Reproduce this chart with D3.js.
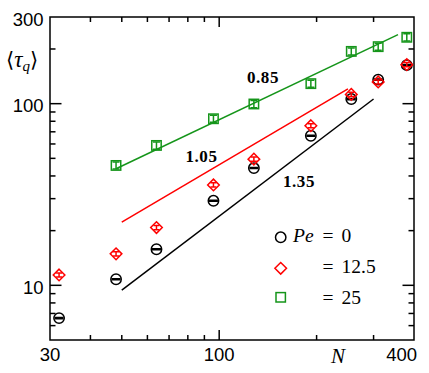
<!DOCTYPE html>
<html>
<head>
<meta charset="utf-8">
<script src="https://cdn.jsdelivr.net/npm/d3@7"></script>
<style>
  body { margin: 0; background: #fff; }
  svg { display: block; }
</style>
</head>
<body>
<svg id="chart" width="429" height="373"></svg>
<script>
// chain length N
let sizes = [32, 48, 64, 96, 128, 192, 256, 310, 380]

// <tau_q> for each Pe
let tauPe0   = [6.6, 10.8, 15.8, 29.2, 44.2, 66.6, 106, 135.6, 163]
let tauPe125 = [11.4, 14.9, 20.8, 35.7, 49.5, 75.6, 112.5, 131.7, 164]
let tauPe25  = [null, 45.7, 58.9, 82.6, 99.6, 128.9, 194, 206, 232]

// error bars (small, mostly hidden under the symbols)
let errPe0   = [0.05, 0.08, 0.12, 0.2, 0.3, 0.5, 0.8, 1.0, 1.2]
let errPe125 = [0.3, 0.4, 0.55, 0.95, 1.3, 2.0, 3.0, 3.5, 4.3]
let errPe25  = [null, 2.0, 2.7, 3.7, 4.5, 5.8, 8.7, 9.3, 10.4]

// power law fits: start / end N and value
let fitSlopes = ['0.85', '1.05', '1.35']
let fitN      = [[48, 357], [50, 250], [50, 300]]
let fitTau    = [[43.8, 240], [22.3, 120.5], [9.42, 106.1]]

let xMajor = [100]
let xMinor = [40, 50, 60, 70, 80, 90, 200, 300]
let xLabels = [30, 100, 400]
let yMajor = [10, 100]
let yMinor = [6, 7, 8, 9, 20, 30, 40, 50, 60, 70, 80, 90, 200]
let yLabels = [10, 100, 300]

let green = '#15951a'
let colors = ['#000000', '#ff0000', green]

let sansFont = 'Liberation Sans'
let serifFont = 'Liberation Serif'

let canvas = d3.select('#chart')

let plotL = 50, plotR = 414, plotT = 17, plotB = 340

let x = d3.scaleLog().domain([30, 400]).range([plotL, plotR])
let y = d3.scaleLog().domain([5, 300]).range([plotB, plotT])

// ---------- frame and ticks ----------
let axisG = canvas.append('g').attr('stroke', '#000').attr('stroke-width', 1.5)

axisG.append('rect')
    .attr('x', plotL).attr('y', plotT)
    .attr('width', plotR - plotL).attr('height', plotB - plotT)
    .attr('fill', 'none')

let addTicks = (vals, len, horizontal) => {
    vals.forEach((v) => {
        if (horizontal) {
            // bottom and top
            axisG.append('line').attr('x1', x(v)).attr('x2', x(v)).attr('y1', plotB).attr('y2', plotB - len)
            axisG.append('line').attr('x1', x(v)).attr('x2', x(v)).attr('y1', plotT).attr('y2', plotT + len)
        } else {
            axisG.append('line').attr('y1', y(v)).attr('y2', y(v)).attr('x1', plotL).attr('x2', plotL + len)
            axisG.append('line').attr('y1', y(v)).attr('y2', y(v)).attr('x1', plotR).attr('x2', plotR - len)
        }
    })
}
addTicks(xMinor, 5, true)
addTicks(xMajor, 10, true)
addTicks(yMinor, 5.5, false)
addTicks(yMajor, 11.5, false)

// tick labels
canvas.selectAll('.xlab')
    .data(xLabels)
    .enter()
    .append('text')
    .attr('font-family', sansFont)
    .attr('font-size', 18.5)
    .attr('x', (d) => d == 400 ? 417 : x(d))
    .attr('y', 360.5)
    .attr('text-anchor', (d) => d == 400 ? 'end' : 'middle')
    .text((d) => d)

canvas.selectAll('.ylab')
    .data(yLabels)
    .enter()
    .append('text')
    .attr('font-family', sansFont)
    .attr('font-size', 18.5)
    .attr('x', 43.5)
    .attr('y', (d) => y(d) + 8.5)
    .attr('text-anchor', 'end')
    .text((d) => d)

// axis titles
let yTitle = canvas.append('text').attr('font-family', serifFont).attr('x', 6).attr('y', 67)
yTitle.append('tspan').attr('font-family', 'DejaVu Serif').attr('font-size', 21).text('\u27E8')
yTitle.append('tspan').attr('font-style', 'italic').attr('font-size', 23).text('\u03C4')
yTitle.append('tspan').attr('font-style', 'italic').attr('font-size', 15).attr('dy', 4).text('q')
yTitle.append('tspan').attr('font-family', 'DejaVu Serif').attr('font-size', 21).attr('dy', -4).text('\u27E9')

canvas.append('text')
    .attr('font-family', serifFont)
    .attr('x', 331)
    .attr('y', 363)
    .attr('font-style', 'italic')
    .attr('font-size', 21)
    .text('N')

// ---------- fit lines ----------
fitN.forEach((ns, i) => {
    canvas.append('line')
        .attr('x1', x(ns[0])).attr('y1', y(fitTau[i][0]))
        .attr('x2', x(ns[1])).attr('y2', y(fitTau[i][1]))
        .attr('stroke', colors[2 - i])
        .attr('stroke-width', 1.5)
})

let slopePos = [[263, 83], [201.5, 162], [299, 187]]
fitSlopes.forEach((s, i) => {
    canvas.append('text')
        .attr('font-family', serifFont)
        .attr('font-size', 17)
        .attr('font-weight', 'bold')
        .attr('letter-spacing', 0.6)
        .attr('x', slopePos[i][0])
        .attr('y', slopePos[i][1])
        .attr('text-anchor', 'middle')
        .text(s)
})

// ---------- data symbols ----------
let addMarker = (sel, kind) => {
    if (kind == 'circle') {
        sel.append('circle').attr('r', 5.2)
    } else if (kind == 'diamond') {
        sel.append('path').attr('d', 'M0,-5.8L5.8,0L0,5.8L-5.8,0Z')
    } else {
        sel.append('rect').attr('x', -4.7).attr('y', -4.7).attr('width', 9.4).attr('height', 9.4)
    }
}

let drawSeries = (vals, errs, color, kind, capW) => {
    let pts = sizes.map((n, i) => ({ n: n, v: vals[i], e: errs[i] })).filter((d) => d.v != null)
    let g = canvas.append('g')
        .attr('stroke', color)
        .attr('fill', 'none')
        .attr('stroke-width', 1.5)

    let grp = g.selectAll('g')
        .data(pts)
        .enter()
        .append('g')
        .attr('transform', (d) => 'translate(' + x(d.n) + ',' + y(d.v) + ')')

    // error bars
    grp.append('path')
        .attr('d', (d) => {
            let y1 = y(d.v + d.e) - y(d.v)
            let y2 = y(d.v - d.e) - y(d.v)
            return 'M0,' + y1 + 'V' + y2 +
                'M' + (-capW) + ',' + y1 + 'H' + capW +
                'M' + (-capW) + ',' + y2 + 'H' + capW
        })

    addMarker(grp, kind)
}

drawSeries(tauPe0, errPe0, '#000', 'circle', 4.5)
drawSeries(tauPe125, errPe125, '#ff0000', 'diamond', 3)
drawSeries(tauPe25, errPe25, green, 'square', 3.5)

// ---------- legend ----------
let legendItems = [
    { kind: 'circle', color: '#000', y: 237.3 },
    { kind: 'diamond', color: '#ff0000', y: 268.3 },
    { kind: 'square', color: green, y: 297.3 }
]
let legend = canvas.append('g')
legendItems.forEach((item) => {
    let g = legend.append('g')
        .attr('transform', 'translate(280.7,' + item.y + ')')
        .attr('stroke', item.color)
        .attr('fill', 'none')
        .attr('stroke-width', 1.5)
    addMarker(g, item.kind)
})

let legendText = (yPos) => legend.append('text')
    .attr('font-family', serifFont)
    .attr('font-size', 19.5)
    .attr('y', yPos)

let l1 = legendText(241.8)
l1.append('tspan').attr('x', 293).attr('font-style', 'italic').text('Pe')
l1.append('tspan').attr('x', 322.5).text('=')
l1.append('tspan').attr('x', 341.5).text('0')

let l2 = legendText(272.5)
l2.append('tspan').attr('x', 322.5).text('=')
l2.append('tspan').attr('x', 341.5).text('12.5')

let l3 = legendText(303.5)
l3.append('tspan').attr('x', 322.5).text('=')
l3.append('tspan').attr('x', 341.5).text('25')
</script>
</body>
</html>
